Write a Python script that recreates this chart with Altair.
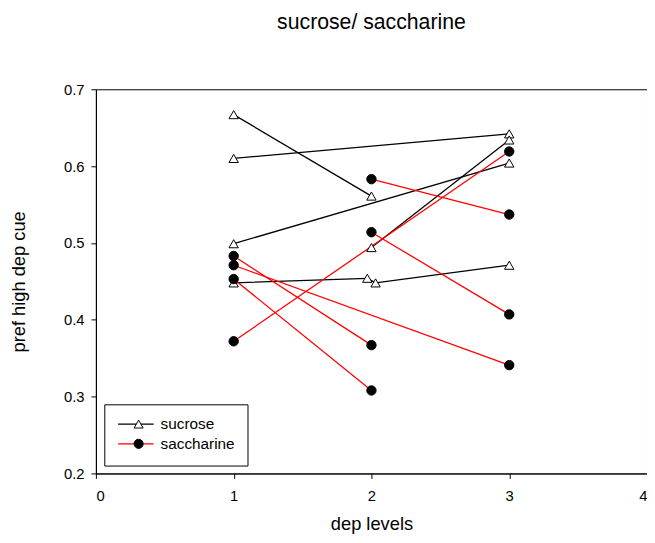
import altair as alt
import pandas as pd

# ---- data ----
series_names = ["sucrose", "saccharine"]
series_codes = ["S", "C"]
series_colors = ["black", "red"]
series_shapes = ["triangle-up", "circle"]
series_fills = ["white", "black"]
marker_edges = ["black", "black"]

line_ids = ["s1", "s2", "s3", "s4", "s5", "c1", "c2", "c3", "c4", "c5", "c6"]
line_series = ["sucrose"] * 5 + ["saccharine"] * 6
line_x = [
    [1, 2], [1, 3], [1, 3], [1, 1.97, 2.03, 3], [2, 3],
    [2, 3], [2, 3], [1, 3], [1, 2], [1, 2], [1, 3],
]
line_y = [
    [0.667, 0.561], [0.610, 0.642], [0.499, 0.604], [0.448, 0.454, 0.448, 0.471], [0.494, 0.634],
    [0.583, 0.537], [0.514, 0.407], [0.372, 0.619], [0.453, 0.308], [0.483, 0.367], [0.471, 0.341],
]

x_ticks = [0, 1, 2, 3, 4]
y_ticks = [0.2, 0.3, 0.4, 0.5, 0.6, 0.7]

code_of = dict(zip(series_names, series_codes))
rows = []
for lid, ser, xs, ys in zip(line_ids, line_series, line_x, line_y):
    for k, (xv, yv) in enumerate(zip(xs, ys)):
        rows.append({"line": lid, "series": ser, "grp": code_of[ser], "x": xv, "y": yv, "k": k})
df = pd.DataFrame(rows)

FONT = "Liberation Sans"

x_enc = alt.X(
    "x:Q",
    scale=alt.Scale(domain=[0, 4], nice=False, zero=False),
    axis=alt.Axis(values=x_ticks, title="dep levels", format="d",
                  tickSize=5, labelPadding=10, titlePadding=12),
)
y_enc = alt.Y(
    "y:Q",
    scale=alt.Scale(domain=[0.2, 0.7], nice=False, zero=False),
    axis=alt.Axis(values=y_ticks, title="pref high dep cue", format=".1f",
                  tickSize=5, labelPadding=7, titlePadding=35),
)

LEG_X = 8.5
LEG_Y = 319

line_legend = alt.Legend(
    title=None,
    orient="none",
    legendX=LEG_X,
    legendY=LEG_Y,
    fillColor="white",
    strokeColor="black",
    padding=13,
    clipHeight=14,
    rowPadding=4,
    symbolType="stroke",
    symbolSize=1296,
    symbolStrokeWidth=1.3,
    labelOffset=6,
    labelFont=FONT,
    labelFontSize=15.5,
    labelColor="black",
    zindex=1,
)

marker_legend = alt.Legend(
    title=None,
    orient="none",
    legendX=LEG_X + 19 - 5,
    legendY=LEG_Y,
    padding=13,
    clipHeight=14,
    rowPadding=4,
    symbolSize=85,
    symbolStrokeWidth=1,
    symbolOpacity=1,
    labelOpacity=0,
    labelFontSize=15.5,
    zindex=2,
)

lines = alt.Chart(df).mark_line(strokeWidth=1.3).encode(
    x=x_enc,
    y=y_enc,
    detail="line:N",
    order="k:Q",
    stroke=alt.Stroke("series:N",
                      scale=alt.Scale(domain=series_names, range=series_colors),
                      legend=line_legend),
)

points = alt.Chart(df).mark_point(filled=False, size=90, strokeWidth=1, opacity=1).encode(
    x=x_enc,
    y=y_enc,
    shape=alt.Shape("grp:N",
                    scale=alt.Scale(domain=series_codes, range=series_shapes),
                    legend=marker_legend),
    fill=alt.Fill("grp:N",
                  scale=alt.Scale(domain=series_codes, range=series_fills),
                  legend=marker_legend),
    color=alt.Color("grp:N",
                    scale=alt.Scale(domain=series_codes, range=marker_edges),
                    legend=marker_legend),
)

chart = (
    alt.layer(lines, points)
    .properties(
        width=558,
        height=389,
        title="sucrose/ saccharine",
        autosize=alt.AutoSizeParams(type="none"),
        padding={"left": 89, "top": 79, "right": 0, "bottom": 58},
        background="white",
    )
    .configure_view(stroke="black", strokeWidth=1)
    .configure_axis(
        grid=False,
        domainColor="black",
        tickColor="black",
        labelColor="black",
        titleColor="black",
        labelFont=FONT,
        titleFont=FONT,
        labelFontSize=15,
        titleFontSize=18.5,
        titleFontWeight="normal",
        domainWidth=1,
        tickWidth=1,
    )
    .configure_title(font=FONT, fontSize=21.5, fontWeight="normal",
                     anchor="middle", offset=50, color="black")
)

chart.save("out.html", embed_options={"renderer": "svg", "actions": False})
